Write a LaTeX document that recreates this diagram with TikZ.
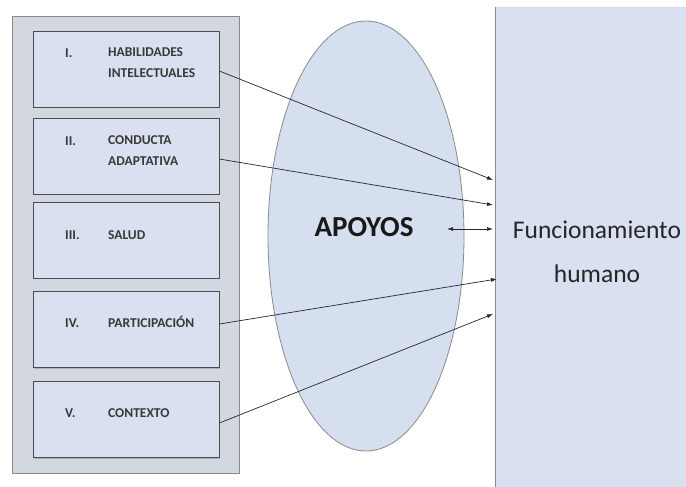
\documentclass[tikz,border=0pt]{standalone}
\usepackage{fontspec}
\setmainfont{Carlito}
\usetikzlibrary{arrows.meta}
\usetikzlibrary{shapes.geometric}
\usetikzlibrary{shadows}
\definecolor{panelgray}{HTML}{D3D7DF}
\definecolor{boxblue}{HTML}{D9E1F1}
\definecolor{ovalblue}{HTML}{D6DFEF}
\definecolor{edgegray}{HTML}{8A8A8A}

\begin{document}
\begin{tikzpicture}[x=1pt, y=-1pt,
    dimbox/.style={rectangle, draw=black!70, fill=boxblue, line width=.8pt, minimum width=186pt, minimum height=76pt, inner sep=0pt, drop shadow={shadow xshift=1.3pt, shadow yshift=-1.3pt, opacity=.45}},
    numtxt/.style={anchor=base west, inner sep=0pt, font=\bfseries\fontsize{13.5}{20}\selectfont, text=black!78},
    dimtxt/.style={anchor=west, align=left, inner sep=0pt, font=\bfseries\fontsize{13.5}{21}\selectfont, text=black!78},
    onetxt/.style={dimtxt, anchor=base west},
    flecha/.style={-{Latex[length=6pt, width=4pt]}, line width=.7pt, black!85}]
    \useasboundingbox (0,0) rectangle (686,487);

    % panel and boxes
    \draw[edgegray, fill=panelgray, line width=.8pt] (12,16) rectangle (239,473);
    \node[dimbox] (b1) at (126,69) {};
    \node[dimbox] (b2) at (126,156) {};
    \node[dimbox] (b3) at (126,240) {};
    \node[dimbox] (b4) at (126,329.5) {};
    \node[dimbox] (b5) at (126,419.5) {};

    \node[numtxt] (n1) at (65,57.5) {I.};
    \node[dimtxt] (t1) at (108,63) {HABILIDADES\\INTELECTUALES};
    \node[numtxt] (n2) at (65,145) {II.};
    \node[dimtxt] (t2) at (108,151) {CONDUCTA\\ADAPTATIVA};
    \node[numtxt] (n3) at (65,239.5) {III.};
    \node[onetxt] (t3) at (108,239.5) {SALUD};
    \node[numtxt] (n4) at (65,327.5) {IV.};
    \node[onetxt] (t4) at (108,327.5) {PARTICIPACIÓN};
    \node[numtxt] (n5) at (65,417.5) {V.};
    \node[onetxt] (t5) at (108,417.5) {CONTEXTO};

    % apoyos
    \node[ellipse, draw=edgegray, fill=ovalblue, line width=.8pt, minimum width=196pt, minimum height=430pt, inner sep=0pt] (ap) at (366,236) {};
    \node[font=\bfseries\fontsize{29}{32}\selectfont, text=black!90, inner sep=0pt] (apoyos) at (364,227) {APOYOS};

    % funcionamiento
    \draw[edgegray, fill=boxblue, line width=.9pt] (690,7) -- (495,7) -- (495,492);
    \fill[boxblue] (495.5,7.5) rectangle (690,492);
    \node[align=center, font=\fontsize{25.5}{44}\selectfont, text=black!85, inner sep=0pt] (fh) at (597,252) {Funcionamiento\\humano};

    \coordinate (e1) at (493,180);
    \coordinate (e2) at (493,205);
    \coordinate (e3) at (493,229);
    \coordinate (e4) at (497,279);
    \coordinate (e5) at (493,314);
    \coordinate (a3) at (447,229);

    \draw[flecha] (b1.east |- 0,71) -- (e1);
    \draw[flecha] (b2.east |- 0,159) -- (e2);
    \draw[flecha, {Latex[length=6pt, width=4pt]}-{Latex[length=6pt, width=4pt]}] (a3) -- (e3);
    \draw[flecha] (b4.east |- 0,324) -- (e4);
    \draw[flecha] (b5.east |- 0,423) -- (e5);
\end{tikzpicture}
\end{document}
